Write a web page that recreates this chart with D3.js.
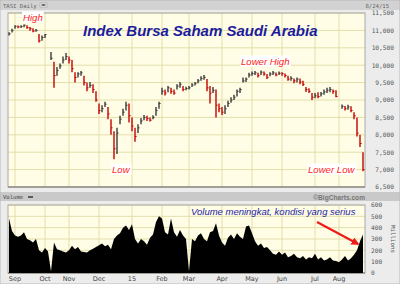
<!DOCTYPE html>
<html>
<head>
<meta charset="utf-8">
<script src="https://cdn.jsdelivr.net/npm/d3@7"></script>
<style>
  body { margin: 0; background: #ececec; }
  svg { display: block; }
</style>
</head>
<body>
<div id="container"></div>
<script>
// month labels and the bar (trading-day group) where each month starts
const months = ["Sep", "Oct", "Nov", "Dec", "15", "Feb", "Mar", "Apr", "May", "Jun", "Jul", "Aug"];
const monthBar = [2, 12, 20, 30, 41, 51, 60, 71, 81, 91, 102, 110];

const priceTicks = [6500, 7000, 7500, 8000, 8500, 9000, 9500, 10000, 10500, 11000, 11500];
const volTicks = [0, 100, 200, 300, 400, 500, 600];

// TASI daily (null = market closed for Eid)
const high = [10950, 11050, 11150, 11140, 11150, 11170, 11150, 11100, 11060, 11040,
  10900, 10850, 10900, null, 10380, 10100, 9950, 10050, 10250, 10350,
  10250, 10150, 9800, 9800, 9830, 9700, 9500, 9520, 9450, 9250,
  8900, 8850, 8950, 8800, 8450, 8100, 8200, 8550, 8750, 8950,
  8900, 8500, 8200, 8300, 8480, 8570, 8550, 8500, 8560, 8800,
  8950, 9350, 9300, 9400, 9350, 9300, 9450, 9520, 9400, 9380,
  9400, 9480, 9520, 9600, 9680, 9720, 9600, 9400, 9370, 9300,
  8900, 8800, 8850, 8980, 9080, 9150, 9300, 9350, 9650, 9650,
  9780, 9820, 9830, 9780, 9850, 9820, 9750, 9800, 9830, 9790,
  9820, 9800, 9760, 9700, 9680, 9620, 9650, 9620, 9550, 9370,
  9340, 9200, 9200, 9220, 9230, 9300, 9350, 9370, 9300, 9280,
  null, 8870, 8830, 8860, 8820, 8650, 8500, 8000, 7500];
const low = [10850, 10940, 11050, 11060, 11070, 11090, 11050, 10990, 10950, 10960,
  10650, 10700, 10780, null, 10150, 9350, 9700, 9900, 10050, 10150,
  10050, 9800, 9500, 9650, 9700, 9420, 9250, 9350, 9200, 8950,
  8600, 8650, 8800, 8450, 8000, 7300, 7450, 8300, 8550, 8700,
  8350, 8100, 7800, 8050, 8300, 8420, 8400, 8380, 8450, 8550,
  8750, 9150, 9130, 9220, 9180, 9150, 9300, 9350, 9250, 9280,
  9300, 9370, 9420, 9480, 9550, 9580, 9250, 8900, 9200, 8500,
  8650, 8570, 8600, 8800, 8920, 9000, 9100, 9200, 9500, 9520,
  9650, 9700, 9720, 9650, 9720, 9700, 9600, 9680, 9720, 9680,
  9720, 9700, 9650, 9550, 9550, 9480, 9500, 9450, 9400, 9230,
  9200, 9000, 9050, 9050, 9100, 9150, 9200, 9220, 9180, 9080,
  null, 8750, 8700, 8720, 8650, 8450, 7950, 7650, 6950];
const close = [10900, 11000, 11120, 11100, 11110, 11150, 11080, 11050, 10980, 11000,
  10700, 10800, 10880, null, 10200, 9700, 9850, 9980, 10150, 10250,
  10150, 9900, 9650, 9750, 9780, 9500, 9350, 9420, 9300, 9000,
  8700, 8750, 8880, 8600, 8200, 7600, 8050, 8450, 8650, 8850,
  8550, 8250, 7950, 8200, 8400, 8500, 8470, 8420, 8500, 8700,
  8900, 9250, 9200, 9350, 9250, 9200, 9400, 9450, 9300, 9330,
  9350, 9430, 9480, 9550, 9620, 9650, 9350, 9200, 9280, 8850,
  8750, 8650, 8750, 8900, 9000, 9080, 9250, 9300, 9550, 9600,
  9720, 9760, 9780, 9700, 9800, 9750, 9650, 9750, 9780, 9720,
  9770, 9760, 9700, 9600, 9620, 9550, 9600, 9520, 9450, 9300,
  9250, 9080, 9120, 9100, 9180, 9230, 9280, 9300, 9250, 9100,
  null, 8820, 8750, 8800, 8700, 8550, 8050, 7750, 7000];

// volume, millions of shares
const volume = [480, 370, 330, 320, 330, 360, 300, 290, 270, 300,
  200, 180, 220, 190, 15, 270, 210, 200, 190, 180,
  200, 240, 210, 230, 190, 185, 180, 200, 215, 230,
  245, 260, 235, 250, 210, 300, 330, 350, 400, 420,
  380, 430, 300, 260, 300, 280, 250, 310, 340, 450,
  500, 480, 360, 340, 480, 360, 320, 380, 330, 300,
  15, 300, 280, 330, 350, 300, 280, 360, 370, 440,
  330, 270, 240, 310, 340, 300, 350, 320, 300, 410,
  420, 350, 280, 240, 260, 220, 230, 200, 170, 160,
  190, 160, 180, 140, 150, 170, 140, 130, 150, 120,
  140, 130, 170, 120, 140, 110, 120, 140, 110, 105,
  95, 120, 150, 110, 130, 160, 200, 280, 340];

const W = 400, H = 284;
const left = 8, right = 365;
const pTop = 13, pBot = 187;
const vTop = 205, vBot = 273;

let svg = d3.select("#container")
  .append("svg")
    .attr("width", W)
    .attr("height", H)
    .attr("font-family", "Liberation Sans, Arial, sans-serif")
  ;

let x = d3.scaleLinear().domain([0, close.length - 1]).range([9, 363]);
let yP = d3.scaleLinear().domain([6500, 11500]).range([pBot, pTop]);
let yV = d3.scaleLinear().domain([0, 600]).range([vBot, vTop]);

// frame and header strips
svg.append("rect").attr("width", W).attr("height", H).attr("fill", "#ececec");
svg.append("rect").attr("x", 0).attr("y", 0).attr("width", W).attr("height", 10).attr("fill", "#d2d2d2");
svg.append("rect").attr("x", 0).attr("y", 192).attr("width", W).attr("height", 9).attr("fill", "#c9c9c9");
svg.append("rect").attr("x", 0).attr("y", 0).attr("width", W).attr("height", H)
  .attr("fill", "none").attr("stroke", "#b8b8b8");

function panel(y0, y1, yScale, ticks){
  let g = svg.append("g");
  g.append("rect")
    .attr("x", left).attr("y", y0)
    .attr("width", right - left).attr("height", y1 - y0)
    .attr("fill", "#fffde6");
  g.selectAll(".hgrid").data(ticks).enter()
    .append("line")
      .attr("x1", left).attr("x2", right)
      .attr("y1", d => yScale(d)).attr("y2", d => yScale(d))
      .attr("stroke", "#e2deaa").attr("stroke-width", 1);
  g.selectAll(".vgrid").data(monthBar).enter()
    .append("line")
      .attr("x1", d => x(d)).attr("x2", d => x(d))
      .attr("y1", y0).attr("y2", y1)
      .attr("stroke", "#e2deaa").attr("stroke-width", 1);
  g.append("rect")
    .attr("x", left).attr("y", y0)
    .attr("width", right - left).attr("height", y1 - y0)
    .attr("fill", "none").attr("stroke", "#a8a8a8");
  g.append("line")
    .attr("x1", left).attr("x2", right).attr("y1", y1).attr("y2", y1)
    .attr("stroke", "#777");
  return g;
}

panel(pTop, pBot, yP, priceTicks);
panel(vTop, vBot, yV, volTicks);

// price bars
let bars = svg.append("g");
close.forEach(function(c, i){
  if(c == null) return;
  let prev = i > 0 && close[i-1] != null ? close[i-1] : c;
  let col = c < prev ? "#c40000" : "#3a3a3a";
  bars.append("line")
    .attr("x1", x(i)).attr("x2", x(i))
    .attr("y1", yP(high[i])).attr("y2", yP(low[i]))
    .attr("stroke", col).attr("stroke-width", 1.4);
  bars.append("line")
    .attr("x1", x(i)).attr("x2", x(i) + 1.6)
    .attr("y1", yP(c)).attr("y2", yP(c))
    .attr("stroke", col).attr("stroke-width", 1);
});

// volume area
let area = d3.area()
  .x((d, i) => x(i))
  .y0(vBot)
  .y1(d => yV(d));
svg.append("path")
  .datum(volume)
  .attr("d", area)
  .attr("fill", "#000");

// right axis labels
svg.selectAll(".ptick").data(priceTicks).enter()
  .append("text")
    .attr("x", 394).attr("y", d => yP(d) + 2.3)
    .attr("text-anchor", "end")
    .attr("font-family", "DejaVu Sans Mono, monospace")
    .attr("font-size", 6.2)
    .attr("fill", "#555")
    .text(d => d3.format(",")(d));

svg.selectAll(".vtick").data(volTicks).enter()
  .append("text")
    .attr("x", 371).attr("y", d => yV(d) + 2.3)
    .attr("font-family", "DejaVu Sans Mono, monospace")
    .attr("font-size", 6.2)
    .attr("fill", "#555")
    .text(d => d);

svg.append("text")
  .attr("transform", "translate(391,239) rotate(90)")
  .attr("text-anchor", "middle")
  .attr("font-family", "DejaVu Sans Mono, monospace")
  .attr("font-size", 5.8)
  .attr("fill", "#555")
  .text("Millions");

// month labels
svg.selectAll(".month").data(months).enter()
  .append("text")
    .attr("x", (d, i) => x(monthBar[i]))
    .attr("y", 281)
    .attr("text-anchor", "middle")
    .attr("font-family", "DejaVu Sans, sans-serif")
    .attr("font-size", 6.5)
    .attr("fill", "#444")
    .text(d => d);

// header texts
svg.append("text").attr("x", 3).attr("y", 7.5)
  .attr("font-family", "DejaVu Sans Mono, monospace").attr("font-size", 5.6)
  .attr("fill", "#666").text("TASI Daily");
svg.append("rect").attr("x", 40).attr("y", 3).attr("width", 7).attr("height", 4)
  .attr("fill", "#eee").attr("stroke", "#999").attr("stroke-width", 0.5);
svg.append("line").attr("x1", 41.5).attr("x2", 45.5).attr("y1", 5).attr("y2", 5)
  .attr("stroke", "#222").attr("stroke-width", 1.2);
svg.append("text").attr("x", 389).attr("y", 7.5)
  .attr("text-anchor", "end")
  .attr("font-family", "DejaVu Sans Mono, monospace").attr("font-size", 5.6)
  .attr("fill", "#666").text("8/24/15");

svg.append("text").attr("x", 3).attr("y", 199)
  .attr("font-family", "DejaVu Sans Mono, monospace").attr("font-size", 5.6)
  .attr("fill", "#444").text("Volume");
svg.append("line").attr("x1", 28).attr("x2", 33).attr("y1", 197).attr("y2", 197)
  .attr("stroke", "#111").attr("stroke-width", 1.2);
svg.append("text").attr("x", 365).attr("y", 199.5)
  .attr("text-anchor", "end")
  .attr("font-size", 6.6).attr("font-weight", "bold")
  .attr("fill", "#777").text("\u00A9BigCharts.com");

// title and notes
svg.append("text").attr("x", 83).attr("y", 35.5)
  .attr("font-size", 15).attr("font-weight", "bold").attr("font-style", "italic")
  .attr("fill", "#1c1c9c")
  .text("Index Bursa Saham Saudi Arabia");

function note(tx, ty, label){
  let t = svg.append("text").attr("x", tx).attr("y", ty)
    .attr("font-size", 9.6).attr("font-style", "italic")
    .attr("fill", "#ff2424").text(label);
  let b = t.node().getBBox();
  svg.insert("rect", function(){ return t.node(); })
    .attr("x", b.x - 1).attr("y", b.y).attr("width", b.width + 2).attr("height", b.height)
    .attr("fill", "#ffffff");
}
note(23, 20.5, "High");
note(112, 172.5, "Low");
note(241, 64.5, "Lower High");
note(308, 172.5, "Lower Low");

svg.append("text").attr("x", 191).attr("y", 214.5)
  .attr("font-size", 9.5).attr("font-style", "italic")
  .attr("fill", "#2424a4")
  .text("Volume meningkat, kondisi yang serius");

// arrow
svg.append("defs").append("marker")
  .attr("id", "head").attr("viewBox", "0 0 10 10")
  .attr("refX", 8).attr("refY", 5)
  .attr("markerWidth", 4).attr("markerHeight", 4)
  .attr("orient", "auto")
  .append("path").attr("d", "M0,0L10,5L0,10z").attr("fill", "#f01818");
svg.append("line")
  .attr("x1", 317).attr("y1", 222).attr("x2", 358).attr("y2", 244)
  .attr("stroke", "#f01818").attr("stroke-width", 2)
  .attr("marker-end", "url(#head)");
</script>
</body>
</html>
